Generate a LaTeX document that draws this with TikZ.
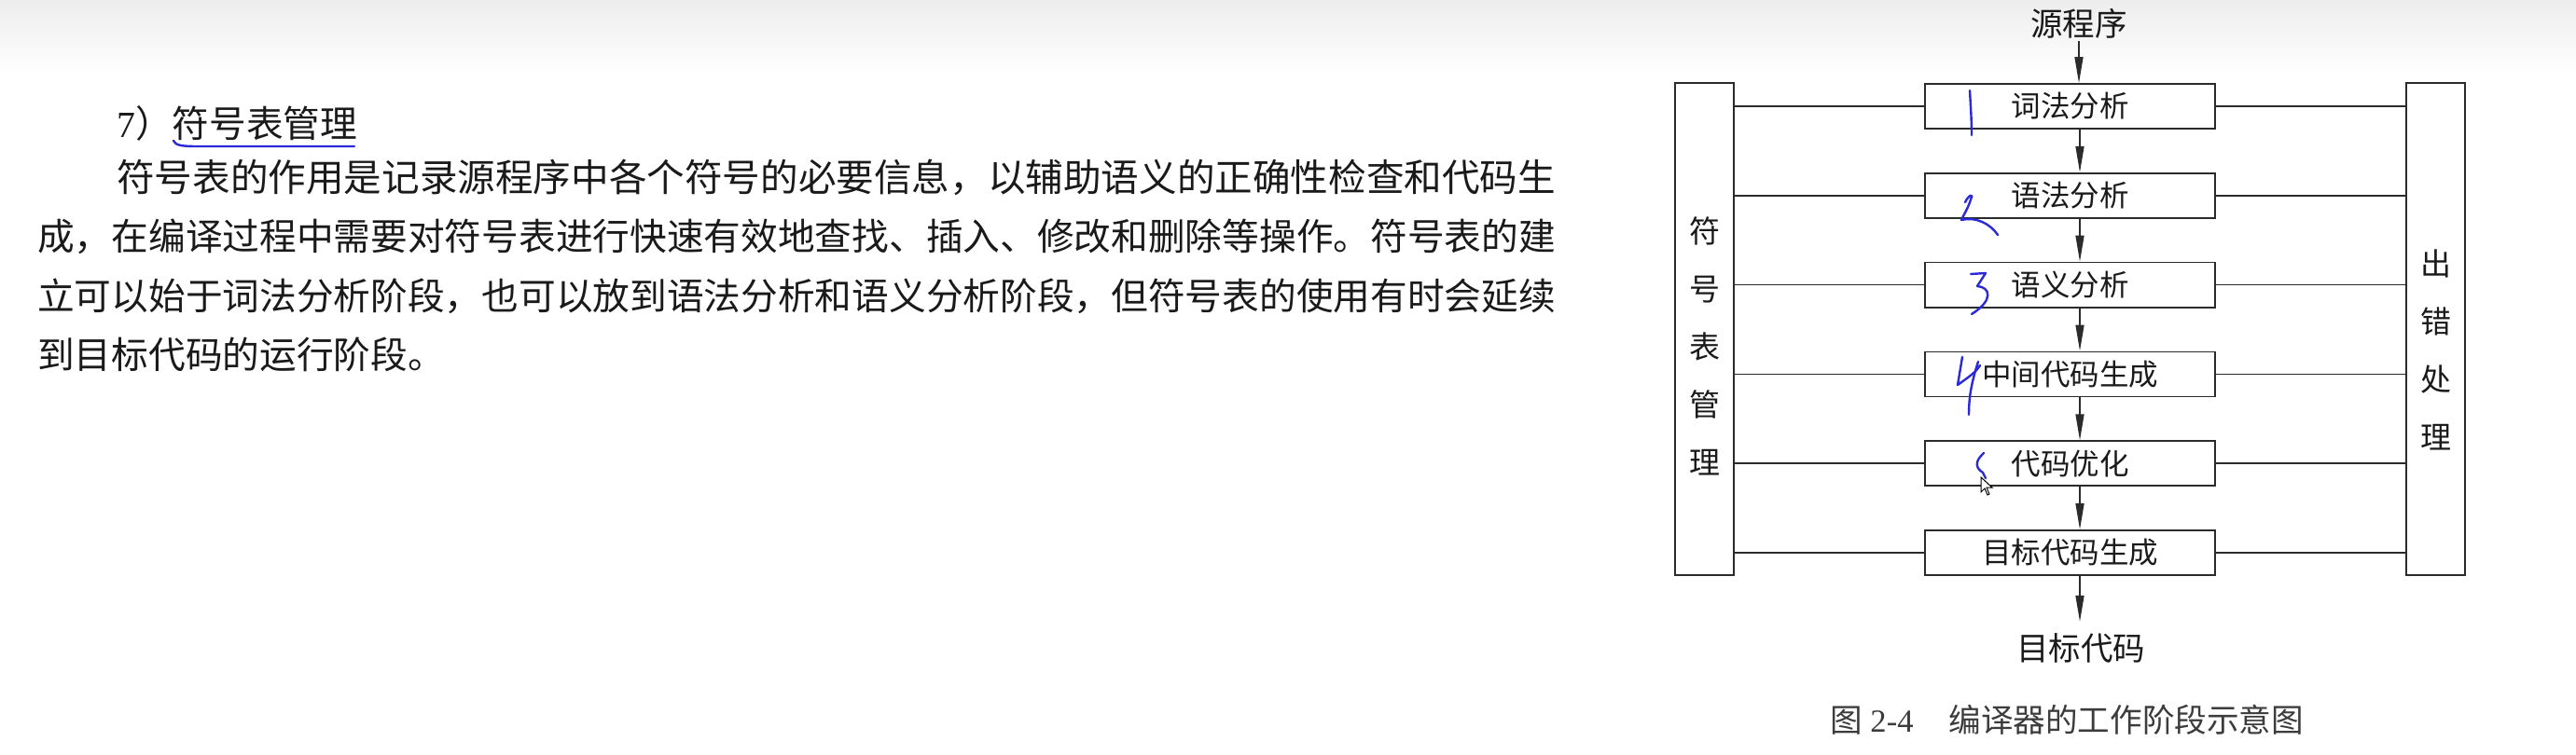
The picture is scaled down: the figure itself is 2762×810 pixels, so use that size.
\documentclass[tikz,border=0pt]{standalone}
\usepackage{fontspec}
\usepackage{tikz}
\usetikzlibrary{arrows.meta,positioning}
\newfontfamily\cjk{Noto Sans CJK SC}
\newfontfamily\latin{Liberation Serif}
\definecolor{inkBlack}{HTML}{1A1A1A}
\definecolor{lineGray}{HTML}{2B2B2B}
\definecolor{penBlue}{HTML}{2A2AD8}
\definecolor{topGray}{HTML}{EDEDED}
\tikzset{
  stagebox/.style={rectangle, draw=lineGray, line width=1.8pt, fill=white, minimum width=311pt, minimum height=48pt, inner sep=0pt, font=\cjk\fontsize{31.5pt}{34pt}\selectfont, text=inkBlack},
  sidebox/.style={rectangle, draw=lineGray, line width=1.6pt, minimum width=63pt, minimum height=528pt, inner sep=0pt},
  sidetext/.style={align=center, inner sep=0pt, font=\cjk\fontsize{33pt}{62pt}\selectfont, text=inkBlack},
  endtext/.style={inner sep=0pt, font=\cjk\fontsize{34.5pt}{40pt}\selectfont, text=inkBlack},
  bodytext/.style={anchor=base west, inner sep=0pt, font=\cjk\fontsize{39.7pt}{48pt}\selectfont, text=inkBlack},
  flow/.style={-{Triangle[length=28pt,width=9pt]}, line width=1.5pt, draw=lineGray},
  link/.style={line width=1.6pt, draw=lineGray},
  pen/.style={draw=penBlue, line width=2.4pt, line cap=round, line join=round}
}

\begin{document}
\begin{tikzpicture}[x=1pt, y=-1pt, node distance=46pt]
  \useasboundingbox (0,0) rectangle (2762,810);
  \fill[white] (0,0) rectangle (2762,810);
  \shade[top color=topGray, bottom color=white] (0,0) rectangle (2762,80);

  % text on the left
  \node[bodytext] (title) at (125,148) {{\latin 7}）符号表管理};
  \node[bodytext] (line1) at (125,206) {\fontsize{40.6pt}{48pt}\selectfont 符号表的作用是记录源程序中各个符号的必要信息，以辅助语义的正确性检查和代码生};
  \node[bodytext] (line2) at (40,269) {成，在编译过程中需要对符号表进行快速有效地查找、插入、修改和删除等操作。符号表的建};
  \node[bodytext] (line3) at (40,332) {立可以始于词法分析阶段，也可以放到语法分析和语义分析阶段，但符号表的使用有时会延续};
  \node[bodytext] (line4) at (40,395) {到目标代码的运行阶段。};
  \draw[pen] (186,151) .. controls (188,156) and (195,157) .. (212,157) -- (380,157);

  % stages
  \node[endtext] (src) at (2229,25) {源程序};
  \node[stagebox] (lex) at (2219.5,114) {词法分析};
  \node[stagebox, below=of lex] (syn) {语法分析};
  \node[stagebox, below=of syn] (sem) {语义分析};
  \node[stagebox, below=of sem] (mid) {中间代码生成};
  \node[stagebox, below=of mid] (opt) {代码优化};
  \node[stagebox, below=of opt] (gen) {目标代码生成};
  \node[endtext] (dst) at (2231,695) {目标代码};

  \node[sidebox] (symtab) at (1827.5,353) {};
  \node[sidetext] (symtabtxt) at (1827.5,371.5) {符\\号\\表\\管\\理};
  \node[sidebox] (err) at (2611.5,353) {};
  \node[sidetext] (errtxt) at (2611.5,375) {出\\错\\处\\理};

  \draw[flow] ([yshift=-3pt]src.south) -- (src.south |- lex.north);
  \foreach \a/\b in {lex/syn, syn/sem, sem/mid, mid/opt, opt/gen}
    \draw[flow] ([xshift=10.5pt]\a.south) -- ([xshift=10.5pt]\b.north);
  \draw[flow] ([xshift=10.5pt]gen.south) -- ([xshift=10.5pt,yshift=12pt]gen.south |- dst.north);

  \foreach \s in {lex, syn, sem, mid, opt, gen} {
    \draw[link] (\s.west) -- (\s.west -| symtab.east);
    \draw[link] (\s.east) -- (\s.east -| err.west);
  }

  % handwritten marks
  \draw[pen] (2112,97) .. controls (2113,115) and (2114,130) .. (2114,145);
  \draw[pen] (2107,217) .. controls (2110,210) and (2117,206) .. (2113,214) .. controls (2110,224) and (2105,231) .. (2103,236) .. controls (2118,232) and (2134,240) .. (2142,252);
  \draw[pen] (2113,294) -- (2129,293) -- (2120,307) .. controls (2134,308) and (2138,322) .. (2114,337);
  \draw[pen] (2104,383) -- (2099,413) .. controls (2110,405) and (2118,400) .. (2123,392);
  \draw[pen] (2121,388) .. controls (2114,410) and (2111,425) .. (2111,445);
  \draw[pen] (2127,486) .. controls (2117,495) and (2118,502) .. (2126,507) -- (2129,513);
  \draw[fill=white, draw=black, line width=1pt] (2124,512) -- (2124,528) -- (2128,524) -- (2131,531) -- (2133,530) -- (2130,523) -- (2136,523) -- cycle;

  \node[anchor=west, inner sep=0pt, font=\cjk\fontsize{34.6pt}{40pt}\selectfont, text=inkBlack!85] (cap) at (1962,772) {图{\latin\ 2-4}\hspace{38pt}编译器的工作阶段示意图};
\end{tikzpicture}
\end{document}
